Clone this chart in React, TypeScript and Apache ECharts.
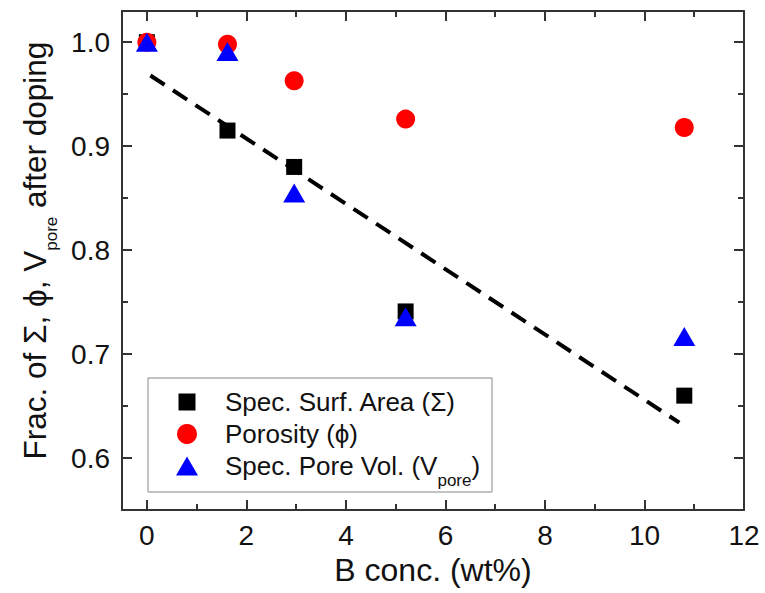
import React, { useEffect, useRef } from 'react';
import * as echarts from 'echarts';

const concentrations = [0, 1.62, 2.96, 5.2, 10.8];
const surfaceArea = [1.0, 0.915, 0.88, 0.741, 0.66];
const porosity = [1.0, 0.998, 0.963, 0.926, 0.918];
const poreVolume = [1.0, 0.991, 0.855, 0.736, 0.717];
const fitX = [0.07, 10.7];
const fitY = [0.968, 0.634];
const xMajorTicks = [0, 2, 4, 6, 8, 10, 12];
const xMinorTicks = [1, 3, 5, 7, 9, 11];
const yMajorTicks = [0.6, 0.7, 0.8, 0.9, 1.0];
const yMinorTicks = [0.65, 0.75, 0.85, 0.95];
const seriesNames = ['Spec. Surf. Area (Σ)', 'Porosity (ϕ)', 'Spec. Pore Vol. (Vpore)'];

const FONT = 'Liberation Sans, Arial, sans-serif';
const AX = '#333';
const TXT = '#111';

function pairs(xs: number[], ys: number[]) {
  return xs.map((x, i) => [x, ys[i]]);
}

function xAxisCfg(position: string, ticks: number[], len: number, main: boolean, labels: boolean) {
  return {
    type: 'value',
    position,
    min: -0.5,
    max: 12,
    axisLine: { show: main, onZero: false, lineStyle: { color: AX, width: 2 } },
    axisTick: { show: true, inside: true, length: len, customValues: ticks, lineStyle: { color: AX, width: 2 } },
    axisLabel: labels
      ? { show: true, customValues: xMajorTicks, fontSize: 28, color: TXT, fontFamily: FONT, margin: 11 }
      : { show: false },
    splitLine: { show: false },
  };
}

function yAxisCfg(position: string, ticks: number[], len: number, main: boolean, labels: boolean) {
  return {
    type: 'value',
    position,
    min: 0.55,
    max: 1.03,
    axisLine: { show: main, onZero: false, lineStyle: { color: AX, width: 2 } },
    axisTick: { show: true, inside: true, length: len, customValues: ticks, lineStyle: { color: AX, width: 2 } },
    axisLabel: labels
      ? {
          show: true,
          customValues: yMajorTicks,
          fontSize: 28,
          color: TXT,
          fontFamily: FONT,
          margin: 12,
          formatter: (v: number) => v.toFixed(1),
        }
      : { show: false },
    splitLine: { show: false },
  };
}

export default function App() {
  const ref = useRef<HTMLDivElement>(null);
  useEffect(() => {
    if (!ref.current) return;
    const chart = echarts.init(ref.current, undefined, { renderer: 'svg' });
    const xMain: any = xAxisCfg('bottom', xMajorTicks, 10, true, true);
    xMain.name = 'B conc. (wt%)';
    xMain.nameLocation = 'middle';
    xMain.nameGap = 44;
    xMain.nameTextStyle = { fontSize: 32, color: TXT, fontFamily: FONT };
    const yMain: any = yAxisCfg('left', yMajorTicks, 10, true, true);
    yMain.name = '{a0|Frac. of Σ, ϕ, V}{s|pore}{a| after doping}';
    yMain.nameLocation = 'middle';
    yMain.nameGap = 65;
    yMain.nameRotate = 90;
    yMain.nameTextStyle = {
      fontFamily: FONT,
      color: TXT,
      rich: {
        a0: { fontSize: 31.5, fontFamily: FONT, color: TXT, lineHeight: 32, padding: [0, 0, 0, 20] },
        a: { fontSize: 31.5, fontFamily: FONT, color: TXT, lineHeight: 32 },
        s: { fontSize: 17, fontFamily: FONT, color: TXT, lineHeight: 17, padding: [34, 0, 0, 0] },
      },
    };

    const legendX = 148;
    const legendY = 378;
    const markX = 187;
    const textX = 225;
    const rows = [402, 434, 466];
    const legendFont = 26;

    chart.setOption({
      animation: false,
      backgroundColor: '#fff',
      grid: { left: 122, right: 21, top: 11, bottom: 83, containLabel: false },
      xAxis: [
        xMain,
        xAxisCfg('top', xMajorTicks, 10, true, false),
        xAxisCfg('bottom', xMinorTicks, 6, false, false),
        xAxisCfg('top', xMinorTicks, 6, false, false),
      ],
      yAxis: [
        yMain,
        yAxisCfg('right', yMajorTicks, 10, true, false),
        yAxisCfg('left', yMinorTicks, 6, false, false),
        yAxisCfg('right', yMinorTicks, 6, false, false),
      ],
      graphic: [
        {
          type: 'group',
          z: 100,
          children: [
            {
              type: 'rect',
              shape: { x: legendX, y: legendY, width: 344, height: 114 },
              style: { fill: '#fff', stroke: '#888', lineWidth: 1 },
            },
            {
              type: 'rect',
              shape: { x: markX - 8.5, y: rows[0] - 8.5, width: 17, height: 17 },
              style: { fill: '#000' },
            },
            {
              type: 'circle',
              shape: { cx: markX, cy: rows[1], r: 10 },
              style: { fill: '#ff0000' },
            },
            {
              type: 'polygon',
              shape: {
                points: [
                  [markX - 11, rows[2] + 9.5],
                  [markX + 11, rows[2] + 9.5],
                  [markX, rows[2] - 9.5],
                ],
              },
              style: { fill: '#0000ff' },
            },
            {
              type: 'text',
              x: textX,
              y: rows[0],
              style: {
                text: seriesNames[0],
                fontSize: legendFont,
                fontFamily: FONT,
                fill: TXT,
                align: 'left',
                verticalAlign: 'middle',
              },
            },
            {
              type: 'text',
              x: textX,
              y: rows[1],
              style: {
                text: seriesNames[1],
                fontSize: legendFont,
                fontFamily: FONT,
                fill: TXT,
                align: 'left',
                verticalAlign: 'middle',
              },
            },
            {
              type: 'text',
              x: textX,
              y: rows[2],
              style: {
                text: '{a|Spec. Pore Vol. (V}{s|pore}{a|)}',
                fontSize: legendFont,
                fontFamily: FONT,
                fill: TXT,
                align: 'left',
                verticalAlign: 'middle',
                rich: {
                  a: { fontSize: legendFont, fontFamily: FONT, fill: TXT, lineHeight: 28 },
                  s: { fontSize: 17, fontFamily: FONT, fill: TXT, lineHeight: 17, padding: [28, 0, 0, 0] },
                },
              },
            },
          ],
        },
      ],
      series: [
        {
          name: 'fit',
          type: 'line',
          data: pairs(fitX, fitY),
          symbol: 'none',
          lineStyle: { color: '#000', width: 4, type: [17, 10] },
          z: 1,
        },
        {
          name: seriesNames[0],
          type: 'scatter',
          data: pairs(concentrations, surfaceArea),
          symbol: 'rect',
          symbolSize: 16,
          itemStyle: { color: '#000', opacity: 1 },
          z: 2,
        },
        {
          name: seriesNames[1],
          type: 'scatter',
          data: pairs(concentrations, porosity),
          symbol: 'circle',
          symbolSize: 19,
          itemStyle: { color: '#ff0000', opacity: 1 },
          z: 3,
        },
        {
          name: seriesNames[2],
          type: 'scatter',
          data: pairs(concentrations, poreVolume),
          symbol: 'triangle',
          symbolSize: [22, 19],
          itemStyle: { color: '#0000ff', opacity: 1 },
          z: 4,
        },
      ],
    });
    return () => chart.dispose();
  }, []);
  return <div ref={ref} style={{ width: 765, height: 593, position: 'absolute', left: 0, top: 0 }} />;
}
